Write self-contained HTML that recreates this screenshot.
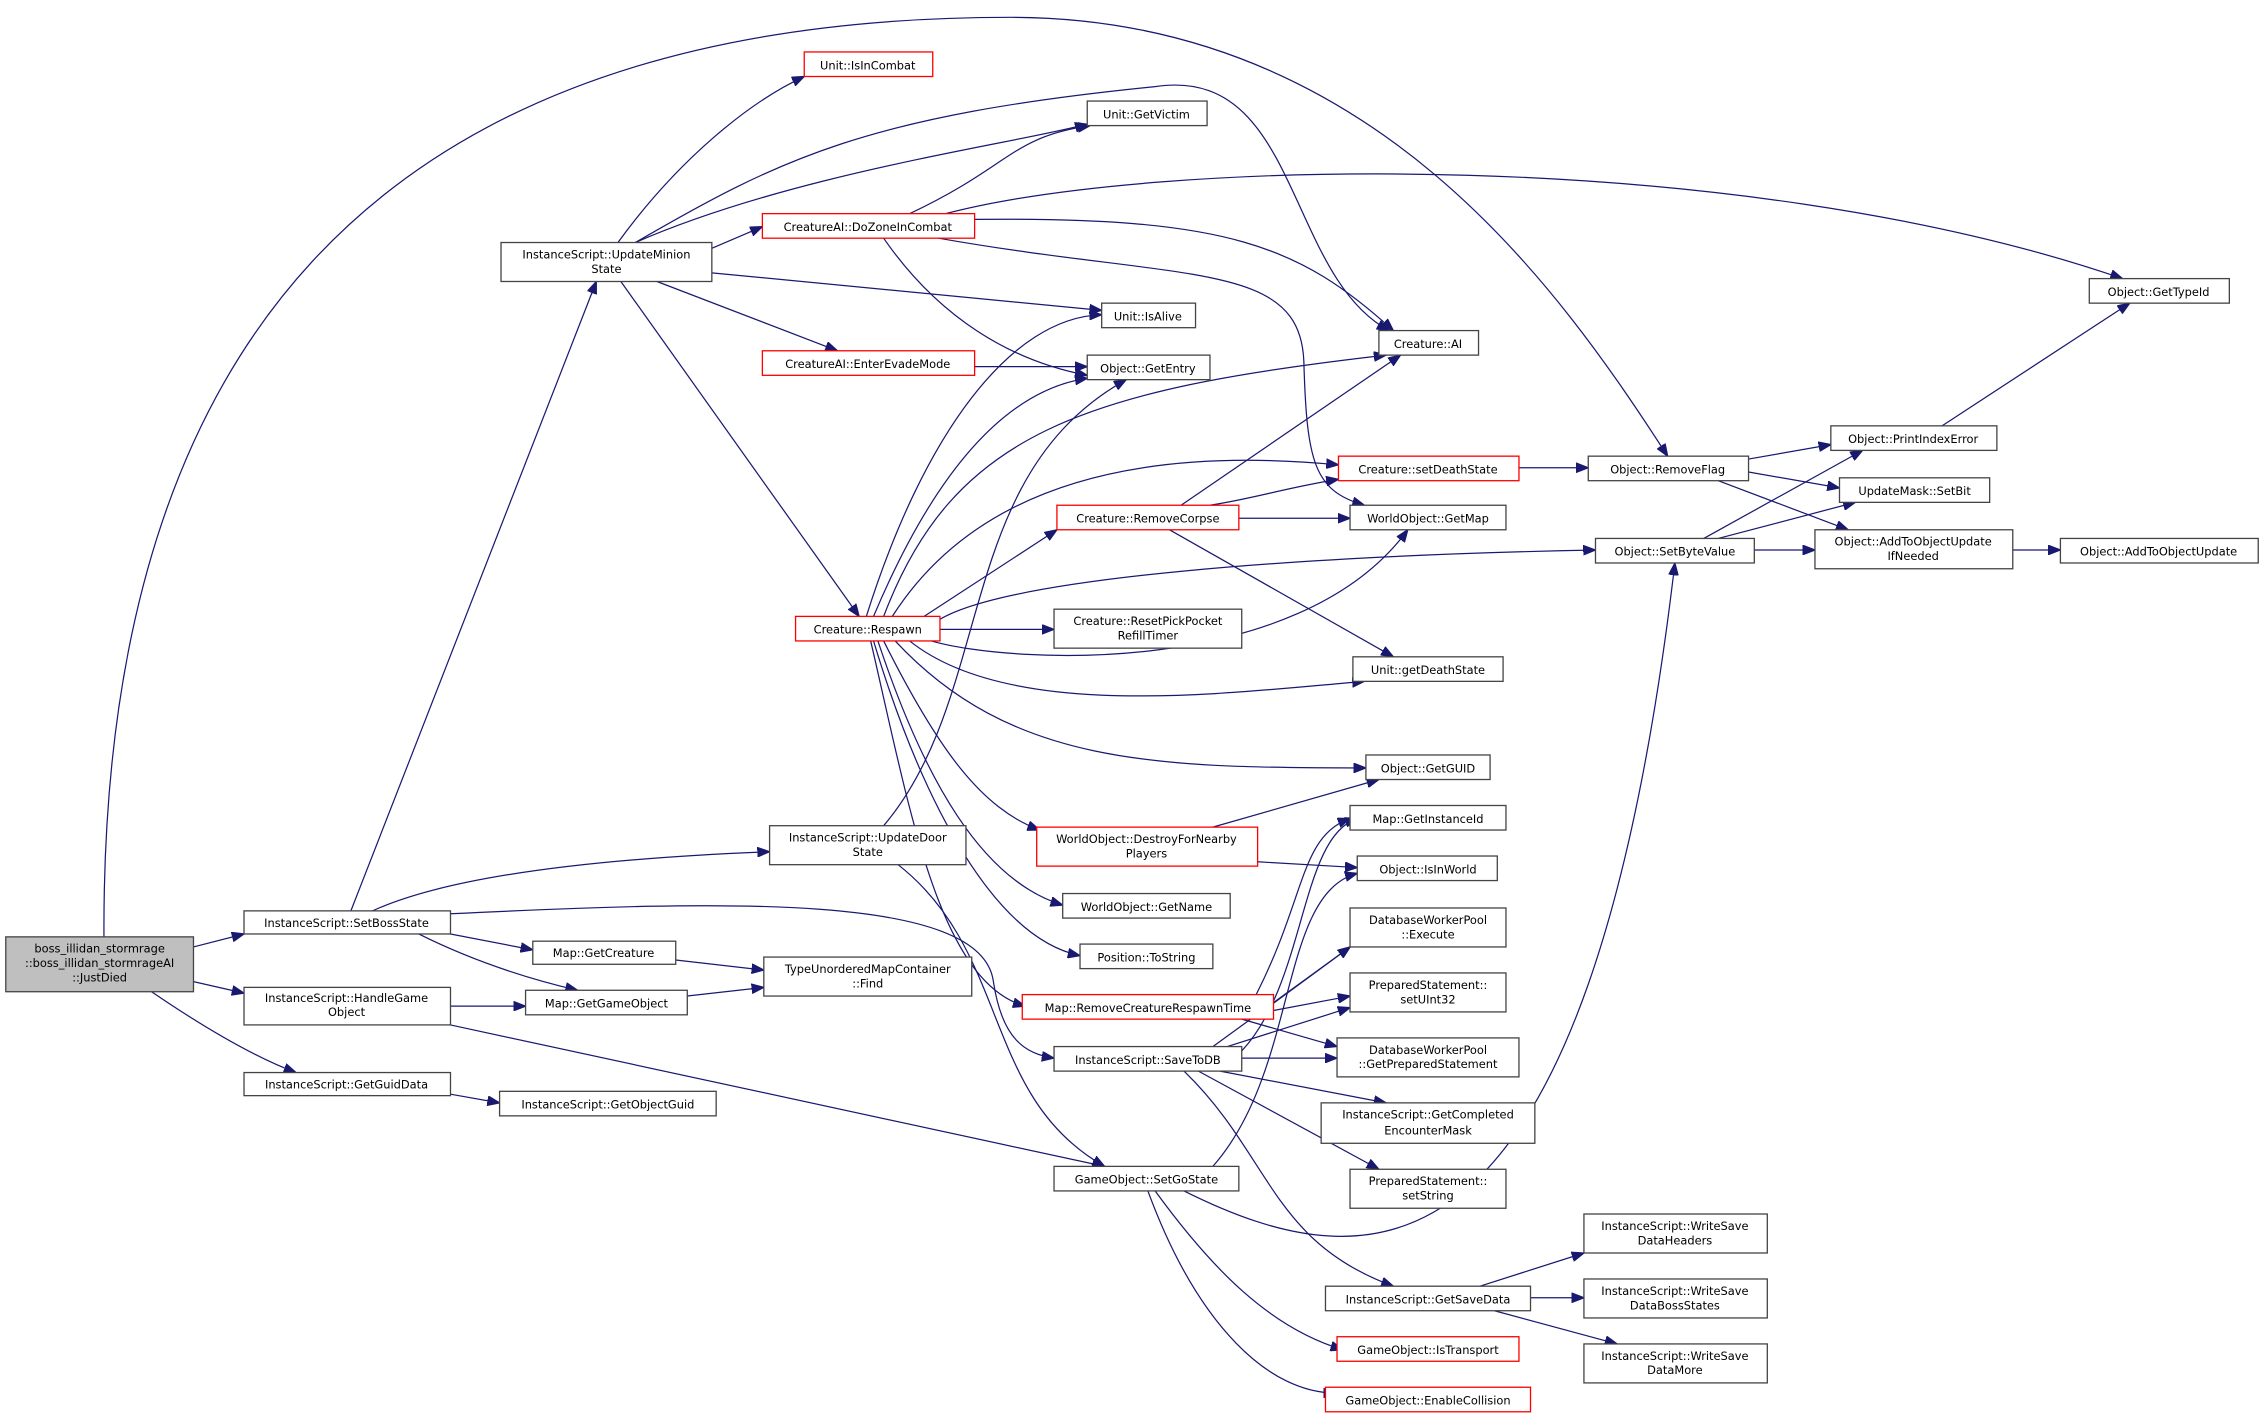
<!DOCTYPE html>
<html><head><meta charset="utf-8"><style>
html,body{margin:0;padding:0;background:#fff;width:2264px;height:1419px;overflow:hidden}
svg{display:block}
text{font-family:"DejaVu Sans","Liberation Sans",sans-serif;font-size:7.9px;fill:#000;text-anchor:middle}
.n{fill:#fff;stroke:#444;stroke-width:0.9}
.r{fill:#fff;stroke:#f00;stroke-width:0.9}
.g{fill:#bfbfbf;stroke:#444;stroke-width:0.9}
path{fill:none;stroke:#191970;stroke-width:0.85}
</style></head><body>
<svg width="2264" height="1419" viewBox="0 0 1568 983" preserveAspectRatio="none">
<defs><marker id="a" markerWidth="9" markerHeight="7" refX="8.5" refY="3.5" orient="auto" markerUnits="userSpaceOnUse"><polygon points="0,0 9,3.5 0,7" fill="#191970" stroke="#191970" stroke-width="0.5"/></marker></defs>
<g marker-end="url(#a)">
<path d="M134,656 L169,647"/>
<path d="M134,680 L169,688"/>
<path d="M105,687 Q165,728 205,743"/>
<path d="M72,649 C70,250 250,12 700,12 C950,12 1080,200 1155,316"/>
<path d="M243,631 L413,195"/>
<path d="M258,631 Q330,598 533,590"/>
<path d="M312,647 L369,658"/>
<path d="M290,647 Q340,672 400,686"/>
<path d="M312,633 C500,624 680,618 688,680 C694,720 710,730 730,733"/>
<path d="M312,697 L364,697"/>
<path d="M312,710 L765,808"/>
<path d="M312,758 L346,764"/>
<path d="M468,665 L529,672"/>
<path d="M476,690 L529,684"/>
<path d="M612,572 C690,480 660,330 780,263"/>
<path d="M622,599 C700,660 680,760 765,808"/>
<path d="M428,168 C470,110 520,70 557,53"/>
<path d="M440,168 C550,120 700,100 753,86"/>
<path d="M440,168 C540,110 600,80 800,60 C900,45 890,190 962,229"/>
<path d="M493,172 L528,157"/>
<path d="M493,189 L763,215"/>
<path d="M455,195 L580,243"/>
<path d="M430,195 L595,427"/>
<path d="M630,148 C700,115 700,95 755,87"/>
<path d="M655,148 C800,110 1200,100 1470,193"/>
<path d="M675,152 C850,150 900,170 965,229"/>
<path d="M650,165 C820,195 900,180 903,250 C905,320 910,340 945,350"/>
<path d="M612,165 C650,220 700,250 753,260"/>
<path d="M675,254 L753,254"/>
<path d="M600,427 C640,300 700,220 763,218"/>
<path d="M605,427 C650,320 700,270 753,262"/>
<path d="M612,427 C660,300 750,270 960,246"/>
<path d="M618,427 C680,330 800,310 927,322"/>
<path d="M640,427 L732,367"/>
<path d="M651,429 C700,400 900,385 1105,381"/>
<path d="M651,436 L730,436"/>
<path d="M645,444 C700,460 900,470 975,367"/>
<path d="M630,444 C700,500 850,480 945,472"/>
<path d="M620,444 C700,530 800,532 946,532"/>
<path d="M612,444 C650,520 680,560 720,575"/>
<path d="M608,444 C640,540 680,610 736,627"/>
<path d="M605,444 C640,560 690,650 748,662"/>
<path d="M603,444 C630,560 650,680 710,697"/>
<path d="M838,350 C870,345 890,338 927,332"/>
<path d="M858,359 L935,359"/>
<path d="M818,350 L970,246"/>
<path d="M810,367 L965,455"/>
<path d="M1052,324 L1100,324"/>
<path d="M840,573 L955,540"/>
<path d="M871,597 L940,601"/>
<path d="M882,695 L935,656"/>
<path d="M882,700 L935,690"/>
<path d="M860,706 L926,725"/>
<path d="M870,689 C905,620 900,580 935,567"/>
<path d="M860,728 C905,680 900,580 940,567"/>
<path d="M840,725 L935,656"/>
<path d="M850,725 L935,698"/>
<path d="M860,733 L926,733"/>
<path d="M845,742 L960,764"/>
<path d="M830,742 L955,810"/>
<path d="M820,742 C880,800 880,860 965,891"/>
<path d="M840,808 C900,740 885,620 940,605"/>
<path d="M820,825 C950,890 1100,900 1160,390"/>
<path d="M800,825 C840,880 880,920 930,935"/>
<path d="M795,825 C830,920 880,965 925,965"/>
<path d="M1025,891 L1097,868"/>
<path d="M1060,899 L1097,899"/>
<path d="M1035,908 L1120,931"/>
<path d="M1211,318 L1268,308"/>
<path d="M1211,327 L1274,338"/>
<path d="M1190,333 L1280,367"/>
<path d="M1180,373 L1290,312"/>
<path d="M1190,373 L1285,348"/>
<path d="M1215,381 L1257,381"/>
<path d="M1394,381 L1427,381"/>
<path d="M1345,295 L1475,210"/>
</g>

<rect class="g" x="4" y="649" width="130" height="38"/>
<text x="69" y="660">boss_illidan_stormrage</text><text x="69" y="670">::boss_illidan_stormrageAI</text><text x="69" y="680">::JustDied</text>

<rect class="n" x="169" y="631" width="143" height="16"/><text x="240" y="642">InstanceScript::SetBossState</text>
<rect class="n" x="169" y="684" width="143" height="26"/><text x="240" y="694">InstanceScript::HandleGame</text><text x="240" y="704">Object</text>
<rect class="n" x="169" y="743" width="143" height="16"/><text x="240" y="754">InstanceScript::GetGuidData</text>
<rect class="n" x="369" y="652" width="99" height="16"/><text x="418" y="663">Map::GetCreature</text>
<rect class="n" x="364" y="686" width="112" height="17"/><text x="420" y="698">Map::GetGameObject</text>
<rect class="n" x="346" y="756" width="150" height="17"/><text x="421" y="768">InstanceScript::GetObjectGuid</text>
<rect class="n" x="529" y="663" width="144" height="27"/><text x="601" y="674">TypeUnorderedMapContainer</text><text x="601" y="684">::Find</text>
<rect class="n" x="533" y="572" width="136" height="27"/><text x="601" y="583">InstanceScript::UpdateDoor</text><text x="601" y="593">State</text>
<rect class="n" x="347" y="168" width="146" height="27"/><text x="420" y="179">InstanceScript::UpdateMinion</text><text x="420" y="189">State</text>
<rect class="r" x="557" y="36" width="89" height="17"/><text x="601" y="48">Unit::IsInCombat</text>
<rect class="n" x="753" y="70" width="83" height="17"/><text x="794" y="82">Unit::GetVictim</text>
<rect class="r" x="528" y="148" width="147" height="17"/><text x="601" y="160">CreatureAI::DoZoneInCombat</text>
<rect class="n" x="763" y="210" width="65" height="17"/><text x="795" y="222">Unit::IsAlive</text>
<rect class="r" x="528" y="243" width="147" height="17"/><text x="601" y="255">CreatureAI::EnterEvadeMode</text>
<rect class="n" x="753" y="246" width="85" height="17"/><text x="795" y="258">Object::GetEntry</text>
<rect class="n" x="955" y="229" width="69" height="17"/><text x="989" y="241">Creature::AI</text>
<rect class="r" x="551" y="427" width="100" height="17"/><text x="601" y="439">Creature::Respawn</text>
<rect class="r" x="927" y="316" width="125" height="17"/><text x="989" y="328">Creature::setDeathState</text>
<rect class="r" x="732" y="350" width="126" height="17"/><text x="795" y="362">Creature::RemoveCorpse</text>
<rect class="n" x="935" y="350" width="108" height="17"/><text x="989" y="362">WorldObject::GetMap</text>
<rect class="n" x="730" y="422" width="130" height="27"/><text x="795" y="433">Creature::ResetPickPocket</text><text x="795" y="443">RefillTimer</text>
<rect class="n" x="937" y="455" width="104" height="17"/><text x="989" y="467">Unit::getDeathState</text>
<rect class="n" x="946" y="523" width="86" height="17"/><text x="989" y="535">Object::GetGUID</text>
<rect class="r" x="718" y="573" width="153" height="27"/><text x="794" y="584">WorldObject::DestroyForNearby</text><text x="794" y="594">Players</text>
<rect class="n" x="736" y="619" width="116" height="17"/><text x="794" y="631">WorldObject::GetName</text>
<rect class="n" x="748" y="654" width="92" height="17"/><text x="794" y="666">Position::ToString</text>
<rect class="r" x="708" y="689" width="174" height="17"/><text x="795" y="701">Map::RemoveCreatureRespawnTime</text>
<rect class="n" x="730" y="725" width="130" height="17"/><text x="795" y="737">InstanceScript::SaveToDB</text>
<rect class="n" x="730" y="808" width="128" height="17"/><text x="794" y="820">GameObject::SetGoState</text>
<rect class="n" x="935" y="558" width="108" height="17"/><text x="989" y="570">Map::GetInstanceId</text>
<rect class="n" x="940" y="593" width="97" height="17"/><text x="989" y="605">Object::IsInWorld</text>
<rect class="n" x="935" y="629" width="108" height="27"/><text x="989" y="640">DatabaseWorkerPool</text><text x="989" y="650">::Execute</text>
<rect class="n" x="935" y="674" width="108" height="27"/><text x="989" y="685">PreparedStatement::</text><text x="989" y="695">setUInt32</text>
<rect class="n" x="926" y="719" width="126" height="27"/><text x="989" y="730">DatabaseWorkerPool</text><text x="989" y="740">::GetPreparedStatement</text>
<rect class="n" x="915" y="764" width="148" height="28"/><text x="989" y="775">InstanceScript::GetCompleted</text><text x="989" y="786">EncounterMask</text>
<rect class="n" x="935" y="810" width="108" height="27"/><text x="989" y="821">PreparedStatement::</text><text x="989" y="831">setString</text>
<rect class="n" x="918" y="891" width="142" height="17"/><text x="989" y="903">InstanceScript::GetSaveData</text>
<rect class="r" x="926" y="926" width="126" height="17"/><text x="989" y="938">GameObject::IsTransport</text>
<rect class="r" x="918" y="961" width="142" height="17"/><text x="989" y="973">GameObject::EnableCollision</text>
<rect class="n" x="1097" y="841" width="127" height="27"/><text x="1160" y="852">InstanceScript::WriteSave</text><text x="1160" y="862">DataHeaders</text>
<rect class="n" x="1097" y="886" width="127" height="27"/><text x="1160" y="897">InstanceScript::WriteSave</text><text x="1160" y="907">DataBossStates</text>
<rect class="n" x="1097" y="931" width="127" height="27"/><text x="1160" y="942">InstanceScript::WriteSave</text><text x="1160" y="952">DataMore</text>
<rect class="n" x="1100" y="316" width="111" height="17"/><text x="1155" y="328">Object::RemoveFlag</text>
<rect class="n" x="1105" y="373" width="110" height="17"/><text x="1160" y="385">Object::SetByteValue</text>
<rect class="n" x="1268" y="295" width="115" height="17"/><text x="1325" y="307">Object::PrintIndexError</text>
<rect class="n" x="1274" y="331" width="104" height="17"/><text x="1326" y="343">UpdateMask::SetBit</text>
<rect class="n" x="1257" y="367" width="137" height="27"/><text x="1325" y="378">Object::AddToObjectUpdate</text><text x="1325" y="388">IfNeeded</text>
<rect class="n" x="1427" y="373" width="137" height="17"/><text x="1495" y="385">Object::AddToObjectUpdate</text>
<rect class="n" x="1447" y="193" width="97" height="17"/><text x="1495" y="205">Object::GetTypeId</text>
</svg>
</body></html>
